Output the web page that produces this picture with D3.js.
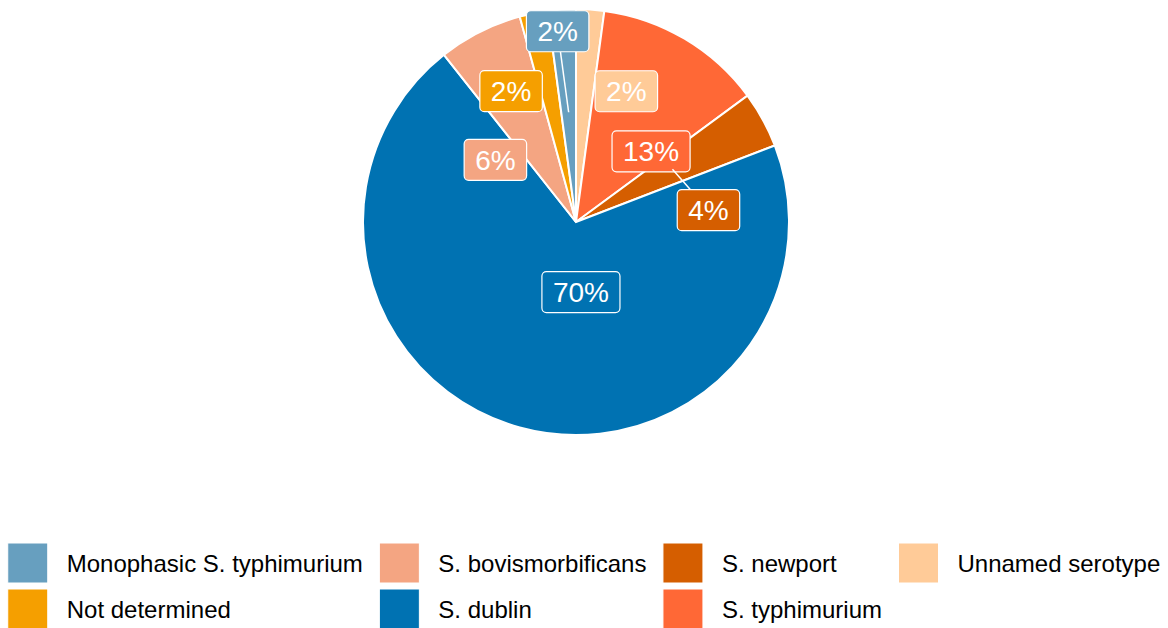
<!DOCTYPE html>
<html>
<head>
<meta charset="utf-8">
<script src="https://cdn.jsdelivr.net/npm/d3@7"></script>
<style>
  body { margin: 0; background: #fff; }
  svg { display: block; font-family: "Liberation Sans", Arial, sans-serif; }
</style>
</head>
<body>
<svg></svg>
<script>
const width = 1168, height = 628;

// data (alphabetical, as in the legend)
const categories = ['Monophasic S. typhimurium', 'Not determined', 'S. bovismorbificans',
    'S. dublin', 'S. newport', 'S. typhimurium', 'Unnamed serotype'];
const counts = [1, 1, 3, 33, 2, 6, 1];
const colors = ['#679FBF', '#F59F00', '#F4A582', '#0072B2', '#D55E00', '#FF6836', '#FFCB98'];

// label nudges away from the anchor point (repel result)
const labelNudge = {
    'Unnamed serotype': [43, -21],
    'S. typhimurium': [19, 24],
    'S. newport': [36, 41],
    'S. dublin': [34, -36],
    'S. bovismorbificans': [-31, 36],
    'Not determined': [-43, -23],
    'Monophasic S. typhimurium': [-11, -81]
};

const svg = d3.select('svg')
    .attr('width', width)
    .attr('height', height);

const cx = 576, cy = 222, radius = 213;
const total = d3.sum(counts);

const color = d3.scaleOrdinal().domain(categories).range(colors);

// pie goes clockwise from 12 o'clock in reverse alphabetical order
const rows = categories.map((c, i) => ({ cat: c, n: counts[i] })).reverse();

const pie = d3.pie().sort(null).value(d => d.n);
const arcs = pie(rows);

const arc = d3.arc().innerRadius(0).outerRadius(radius);
const anchorArc = d3.arc().innerRadius(110).outerRadius(110);

const g = svg.append('g').attr('transform', `translate(${cx},${cy})`);

g.selectAll('path.slice')
    .data(arcs)
    .enter()
    .append('path')
    .attr('class', 'slice')
    .attr('d', arc)
    .attr('fill', d => color(d.data.cat))
    .attr('stroke', '#fff')
    .attr('stroke-width', 2);

// labels
const fontSize = 28, padX = 11, boxH = 41;

const labels = arcs.map(d => {
    const a = anchorArc.centroid(d);
    const nudge = labelNudge[d.data.cat];
    return {
        cat: d.data.cat,
        text: Math.round(d.data.n / total * 100) + '%',
        ax: a[0], ay: a[1],
        x: a[0] + nudge[0], y: a[1] + nudge[1]
    };
});

const lab = g.selectAll('g.lab')
    .data(labels)
    .enter()
    .append('g')
    .attr('class', 'lab');

const segs = lab.append('line')
    .attr('stroke', '#fff')
    .attr('stroke-width', 1.5);

const boxes = lab.append('rect')
    .attr('fill', d => color(d.cat))
    .attr('stroke', '#fff')
    .attr('stroke-width', 1.2)
    .attr('rx', 4.5);

lab.append('text')
    .attr('x', d => d.x)
    .attr('y', d => d.y + fontSize * 0.358)
    .attr('text-anchor', 'middle')
    .attr('fill', '#fff')
    .style('font-size', fontSize + 'px')
    .text(d => d.text)
    .each(function(d) { d.w = this.getComputedTextLength() + padX * 2; });

boxes
    .attr('x', d => d.x - d.w / 2)
    .attr('y', d => d.y - boxH / 2)
    .attr('width', d => d.w)
    .attr('height', boxH);

// segment from anchor to box edge, only when the label sits far away
segs.each(function(d) {
    const hw = d.w / 2, hh = boxH / 2;
    const nx = Math.max(d.x - hw, Math.min(d.ax, d.x + hw));
    const ny = Math.max(d.y - hh, Math.min(d.ay, d.y + hh));
    const dist = Math.hypot(nx - d.ax, ny - d.ay);
    if (dist < 20) { d3.select(this).remove(); return; }
    const dx = d.x - d.ax, dy = d.y - d.ay;
    const t = 1 - Math.min(hw / Math.abs(dx || 1e-9), hh / Math.abs(dy || 1e-9));
    d3.select(this)
        .attr('x1', d.ax).attr('y1', d.ay)
        .attr('x2', d.ax + dx * t).attr('y2', d.ay + dy * t);
});

// legend: 2 rows, filled column by column
const keySize = 40, keyGap = 19, colGap = 16.5, rowStep = 46, legendTop = 543;
const nRows = 2;
const nCols = Math.ceil(categories.length / nRows);

const legend = svg.append('g');
const items = legend.selectAll('g.item')
    .data(categories)
    .enter()
    .append('g')
    .attr('class', 'item');

items.append('rect')
    .attr('width', keySize)
    .attr('height', keySize)
    .attr('fill', d => color(d))
    .attr('stroke', '#fff')
    .attr('stroke-width', 1);

items.append('text')
    .attr('x', keySize + keyGap)
    .attr('y', keySize / 2 + 24 * 0.358)
    .attr('fill', '#000')
    .style('font-size', '24px')
    .text(d => d)
    .each(function(d) { this.__w = this.getComputedTextLength(); });

const colWidths = d3.range(nCols).map(c => {
    const ws = [];
    items.each(function(d, i) {
        if (Math.floor(i / nRows) === c) ws.push(d3.select(this).select('text').node().__w);
    });
    return keySize + keyGap + d3.max(ws);
});
const totalW = d3.sum(colWidths) + colGap * (nCols - 1);
let x0 = (width - totalW) / 2;
const colX = colWidths.map(w => { const x = x0; x0 += w + colGap; return x; });

items.attr('transform', (d, i) =>
    `translate(${colX[Math.floor(i / nRows)]},${legendTop + (i % nRows) * rowStep})`);
</script>
</body>
</html>
